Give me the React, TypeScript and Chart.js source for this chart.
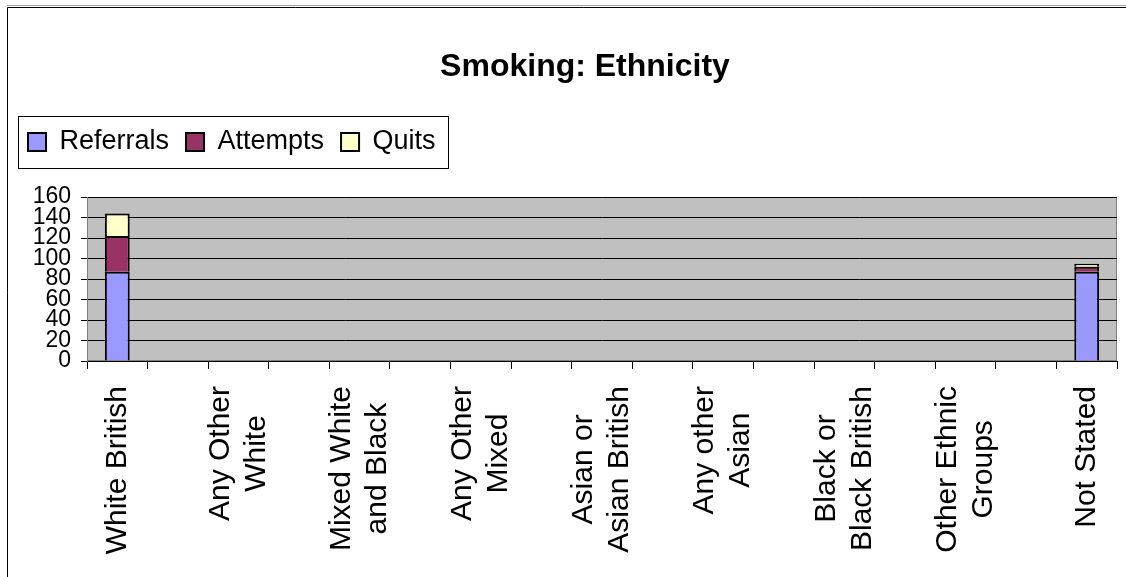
import React, { useEffect, useRef } from 'react';
import { Chart, registerables } from 'chart.js';

Chart.register(...registerables);

const FONT = '"Liberation Sans", Arial, sans-serif';

const titleText = 'Smoking: Ethnicity';

const categories: (string | string[])[] = [
  'White British',
  '',
  ['Any Other', 'White'],
  '',
  ['Mixed White', 'and Black'],
  '',
  ['Any Other', 'Mixed'],
  '',
  ['Asian or', 'Asian British'],
  '',
  ['Any other', 'Asian'],
  '',
  ['Black or', 'Black British'],
  '',
  ['Other Ethnic', 'Groups'],
  '',
  'Not Stated',
];

const referrals = [87, 0, 0, 0, 0, 0, 0, 0, 0, 0, 0, 0, 0, 0, 0, 0, 87];
const attempts = [35, 0, 0, 0, 0, 0, 0, 0, 0, 0, 0, 0, 0, 0, 0, 0, 5];
const quits = [22, 0, 0, 0, 0, 0, 0, 0, 0, 0, 0, 0, 0, 0, 0, 0, 3];

const yMin = 0;
const yMax = 160;
const yStep = 20;

const framePlugin = {
  id: 'frameAndPlot',
  beforeDraw(chart: any) {
    const { ctx, width, height, chartArea: a } = chart;
    ctx.save();
    ctx.fillStyle = '#ffffff';
    ctx.fillRect(0, 0, width, height);
    ctx.strokeStyle = '#a0a0a0';
    ctx.lineWidth = 1;
    ctx.beginPath();
    ctx.moveTo(7, 5.5);
    ctx.lineTo(width, 5.5);
    ctx.stroke();
    ctx.strokeStyle = '#000000';
    ctx.beginPath();
    ctx.moveTo(7.5, height);
    ctx.lineTo(7.5, 7.5);
    ctx.lineTo(width, 7.5);
    ctx.stroke();
    ctx.fillStyle = '#C0C0C0';
    ctx.fillRect(a.left, a.top, a.right - a.left, a.bottom - a.top);
    ctx.strokeStyle = '#808080';
    ctx.strokeRect(a.left + 0.5, a.top + 0.5, a.right - a.left - 1, a.bottom - a.top - 1);
    ctx.restore();
  },
};

const legendFramePlugin = {
  id: 'legendFrame',
  afterDraw(chart: any) {
    const hb = chart.legend && chart.legend.legendHitBoxes;
    if (!hb || !hb.length) return;
    const { ctx } = chart;
    const last = hb[hb.length - 1];
    const x1 = Math.round(hb[0].left - 10) + 0.5;
    const x2 = Math.round(last.left + last.width + 12) + 0.5;
    const y1 = Math.round(hb[0].top - 13) + 0.5;
    const y2 = Math.round(hb[0].top + hb[0].height + 12) + 0.5;
    ctx.save();
    ctx.strokeStyle = '#000000';
    ctx.lineWidth = 1;
    ctx.strokeRect(x1, y1, x2 - x1, y2 - y1);
    ctx.restore();
  },
};

const xLabelPlugin = {
  id: 'xLabels',
  afterDraw(chart: any) {
    const { ctx } = chart;
    const xs = chart.scales.x;
    ctx.save();
    ctx.font = '30px ' + FONT;
    ctx.fillStyle = '#000000';
    ctx.textBaseline = 'middle';
    ctx.textAlign = 'center';
    const lineH = 36;
    categories.forEach((lab, i) => {
      const lines = Array.isArray(lab) ? lab : [lab];
      if (!lines.join('')) return;
      const maxW = Math.max(...lines.map((l) => ctx.measureText(l).width));
      const x = xs.getPixelForValue(i);
      ctx.save();
      ctx.translate(x, xs.top + 25);
      ctx.rotate(-Math.PI / 2);
      lines.forEach((l, k) => {
        ctx.fillText(l, -maxW / 2, (k - (lines.length - 1) / 2) * lineH);
      });
      ctx.restore();
    });
    ctx.restore();
  },
};

export default function App() {
  const ref = useRef<HTMLCanvasElement>(null);

  useEffect(() => {
    const canvas = ref.current;
    if (!canvas) return;
    Chart.defaults.font.family = FONT;
    const chart = new Chart(canvas, {
      type: 'bar',
      data: {
        labels: categories as any,
        datasets: [
          { label: 'Referrals', data: referrals, backgroundColor: '#9999FF', borderColor: '#000000', borderWidth: 2 },
          { label: 'Attempts', data: attempts, backgroundColor: '#993366', borderColor: '#000000', borderWidth: 2 },
          { label: 'Quits', data: quits, backgroundColor: '#FFFFCC', borderColor: '#000000', borderWidth: 2 },
        ],
      },
      options: {
        responsive: false,
        animation: false,
        devicePixelRatio: 1,
        layout: { padding: { left: 11, right: 1, top: 0, bottom: 0 } },
        datasets: { bar: { barPercentage: 0.41, categoryPercentage: 1 } },
        plugins: {
          title: {
            display: true,
            text: titleText,
            color: '#000000',
            font: { size: 32, weight: 'bold', lineHeight: 1.2 },
            padding: { top: 47.8, bottom: 25.3 },
          },
          legend: {
            display: true,
            position: 'top',
            align: 'start',
            labels: {
              boxWidth: 18,
              boxHeight: 18,
              padding: 17,
              color: '#000000',
              font: { size: 27 },
            },
          },
          tooltip: { enabled: false },
        },
        scales: {
          x: {
            stacked: true,
            position: 'bottom',
            offset: true,
            grid: { display: true, drawOnChartArea: false, drawTicks: true, tickLength: 8, color: '#000000', offset: true },
            border: { display: true, color: '#000000', width: 1 },
            ticks: { display: false },
            afterFit: (s: any) => { s.height = 216; },
          },
          xTop: {
            type: 'category',
            position: 'top',
            display: true,
            grid: { display: false },
            ticks: { display: false },
            border: { display: false },
            afterFit: (s: any) => { s.height = 31.5; },
          },
          y: {
            stacked: true,
            min: yMin,
            max: yMax,
            ticks: { stepSize: yStep, autoSkip: false, padding: 10, color: '#000000', font: { size: 23, lineHeight: 1 } },
            grid: { color: '#000000', lineWidth: 1, drawTicks: true, tickLength: 6 },
            border: { display: true, color: '#808080' },
            afterFit: (s: any) => { s.width = 76; },
          },
          yRight: {
            type: 'linear',
            position: 'right',
            display: true,
            grid: { display: false },
            ticks: { display: false },
            border: { display: false },
            afterFit: (s: any) => { s.width = 42; },
          },
        },
      } as any,
      plugins: [framePlugin, xLabelPlugin, legendFramePlugin],
    });
    return () => chart.destroy();
  }, []);

  return (
    <div style={{ position: 'absolute', left: 0, top: 0, width: 1126, height: 577, overflow: 'hidden', background: '#fff' }}>
      <canvas ref={ref} width={1160} height={577} style={{ display: 'block', width: 1160, height: 577 }} />
    </div>
  );
}
